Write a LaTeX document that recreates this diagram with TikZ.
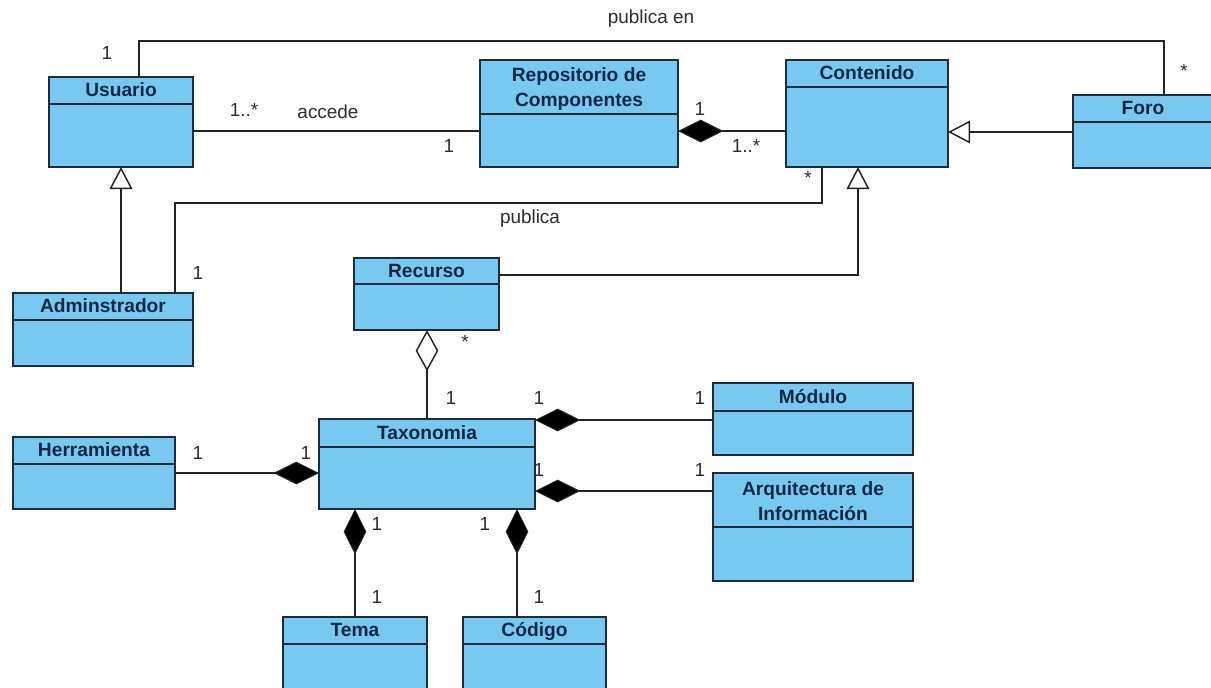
\documentclass[tikz,border=0pt]{standalone}
\usepackage{fontspec}
\setmainfont{Liberation Sans}
\usetikzlibrary{arrows.meta}

\definecolor{classfill}{RGB}{120,200,240}
\definecolor{classedge}{RGB}{30,45,60}
\definecolor{titleink}{RGB}{18,40,70}
\definecolor{lineink}{RGB}{35,35,35}
\definecolor{labelink}{RGB}{45,45,45}

\tikzset{
  classbox/.style={draw=classedge, fill=classfill, line width=1.1pt, inner sep=0pt, outer sep=0pt},
  divider/.style={draw=classedge, line width=1.1pt},
  classtitle/.style={font=\fontsize{14.4}{18.75}\selectfont\bfseries, text=titleink, align=center, inner sep=0pt},
  assoc/.style={draw=lineink, line width=1.1pt},
  lbl/.style={font=\fontsize{14.2}{17}\selectfont, text=labelink, inner sep=0pt},
  compo/.tip={Diamond[length=34pt, width=17pt, fill=black, line width=0.8pt]},
  aggr/.tip={Diamond[open, length=31pt, width=17pt, line width=1.1pt]},
  genz/.tip={Triangle[open, length=16.5pt, width=17pt, line width=1.1pt]},
}

% UML class box: name, left, top, right, bottom, divider y, title
\newcommand\umlclass[7]{%
  \node[classbox, anchor=north west,
        minimum width={(#4-#2)*0.75pt}, minimum height={(#5-#3)*0.75pt}] (#1) at (#2,#3) {};
  \draw[divider] (#1.west |- 0,#6) -- (#1.east |- 0,#6);
  \node[classtitle] (#1-title) at ({(#2+#4)/2},{(#3+#6)/2}) {\vphantom{Óg}#7};
}

\begin{document}
\begin{tikzpicture}[x=0.75pt, y=-0.75pt]
\useasboundingbox (0,0) rectangle (1211,687);

% classes
\umlclass{usuario}{49}{77}{193}{167}{104}{Usuario}
\umlclass{repo}{480}{60}{678}{167}{114}{Repositorio de\\Componentes}
\umlclass{contenido}{786}{60}{948}{167}{87}{Contenido}
\umlclass{foro}{1073}{95}{1213}{168}{122}{Foro}
\umlclass{admin}{13}{293}{193}{366}{320}{Adminstrador}
\umlclass{recurso}{354}{258}{499}{330}{284}{Recurso}
\umlclass{taxonomia}{319}{419}{535}{509}{447}{Taxonomia}
\umlclass{herramienta}{13}{437}{175}{509}{464}{Herramienta}
\umlclass{modulo}{713}{383}{913}{455}{411}{Módulo}
\umlclass{arquitectura}{713}{473}{913}{581}{527}{Arquitectura de\\Información}
\umlclass{tema}{283}{617}{427}{700}{644}{Tema}
\umlclass{codigo}{463}{617}{606}{700}{644}{Código}

% associations
\draw[assoc] (usuario.east |- 0,131) -- (repo.west |- 0,131);
\draw[assoc] (usuario.north -| 139,0) |- (1164,41) -- (foro.north -| 1164,0);
\draw[assoc, {compo}-] (repo.east |- 0,131) -- (contenido.west |- 0,131);
\draw[assoc, -{genz}] (foro.west |- 0,132) -- (contenido.east |- 0,132);
\draw[assoc] (contenido.south -| 822,0) |- (175,203) -- (admin.north -| 175,0);
\draw[assoc, -{genz}] (admin.north -| 121,0) -- (usuario.south -| 121,0);
\draw[assoc, -{genz}] (recurso.east |- 0,275) -| (contenido.south -| 858,0);
\draw[assoc, {aggr}-] (recurso.south -| 427,0) -- (taxonomia.north -| 427,0);
\draw[assoc, {compo}-] (taxonomia.west |- 0,473) -- (herramienta.east |- 0,473);
\draw[assoc, {compo}-] (taxonomia.east |- 0,420) -- (modulo.west |- 0,420);
\draw[assoc, {compo}-] (taxonomia.east |- 0,491) -- (arquitectura.west |- 0,491);
\draw[assoc, {compo}-] (taxonomia.south -| 355,0) -- (tema.north -| 355,0);
\draw[assoc, {compo}-] (taxonomia.south -| 517,0) -- (codigo.north -| 517,0);

% role names and multiplicities
\node[lbl] (m-usu-foro) at (107,53) {1};
\node[lbl] (n-publicaen) at (651,19) {publica en};
\node[lbl] (m-foro-usu) at (1184,71) {*};
\node[lbl] (m-usu-repo) at (244,110) {1..*};
\node[lbl] (n-accede) at (328,112) {accede};
\node[lbl] (m-repo-usu) at (449,146) {1};
\node[lbl] (m-repo-cont) at (700,109) {1};
\node[lbl] (m-cont-repo) at (746,146) {1..*};
\node[lbl] (m-cont-admin) at (808,178) {*};
\node[lbl] (n-publica) at (530,219) {publica};
\node[lbl] (m-admin-cont) at (198,273) {1};
\node[lbl] (m-rec-tax) at (465,342) {*};
\node[lbl] (m-tax-rec) at (451,398) {1};
\node[lbl] (m-tax-mod) at (539,398) {1};
\node[lbl] (m-mod-tax) at (700,398) {1};
\node[lbl] (m-her-tax) at (198,453) {1};
\node[lbl] (m-tax-her) at (306,453) {1};
\node[lbl] (m-tax-arq) at (539,470) {1};
\node[lbl] (m-arq-tax) at (700,470) {1};
\node[lbl] (m-tax-tema) at (377,524) {1};
\node[lbl] (m-tax-cod) at (485,524) {1};
\node[lbl] (m-tema-tax) at (377,597) {1};
\node[lbl] (m-cod-tax) at (539,597) {1};
\end{tikzpicture}
\end{document}
